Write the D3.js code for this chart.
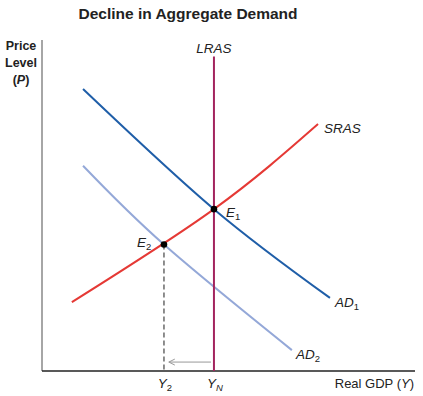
<!DOCTYPE html>
<html>
<head>
<meta charset="utf-8">
<script src="https://cdn.jsdelivr.net/npm/d3@7"></script>
<style>
  body { margin: 0; background: #fff; }
  text { font-family: "Liberation Sans", Arial, sans-serif; fill: #222; }
</style>
</head>
<body>
<svg id="chart" width="423" height="396"></svg>
<script>
// curve points in (real GDP, price level) units, 0-100
var ad1 = [[11, 85.2], [46.1, 48.9], [77.2, 22.1]];
var ad2 = [[11, 62], [32.7, 38.2], [67, 6.3]];
var sras = [[8, 20.8], [46.1, 48.9], [74, 74.6]];
var lrasX = 46.1, lrasTop = 95;
var e1 = [46.1, 48.9], e2 = [32.7, 38.2];
var arrowFrom = 45.3, arrowTo = 34, arrowY = 2.7;

var svg = d3.select('#chart'),
    x = d3.scaleLinear().domain([0, 100]).range([42, 415]),
    y = d3.scaleLinear().domain([0, 100]).range([371, 40]);

var line = d3.line()
    .x(function(d) { return x(d[0]); })
    .y(function(d) { return y(d[1]); })
    .curve(d3.curveNatural);

// title
svg.append('text').attr('x', 188).attr('y', 19)
    .attr('text-anchor', 'middle').attr('font-weight', 'bold').attr('font-size', 15.5)
    .text('Decline in Aggregate Demand');

// axes
svg.append('line').attr('x1', x(0)).attr('x2', x(0)).attr('y1', y(100)).attr('y2', y(0))
    .attr('stroke', '#888').attr('stroke-width', 1.5);
svg.append('line').attr('x1', x(0)).attr('x2', x(100)).attr('y1', y(0)).attr('y2', y(0))
    .attr('stroke', '#222').attr('stroke-width', 1.5);

// y label
var yl = svg.append('text').attr('text-anchor', 'middle').attr('font-size', 12.5).attr('font-weight', 'bold');
yl.append('tspan').attr('x', 21).attr('y', 50).text('Price');
yl.append('tspan').attr('x', 21).attr('y', 67).text('Level');
yl.append('tspan').attr('x', 21).attr('y', 84).text('(');
yl.append('tspan').attr('font-style', 'italic').text('P');
yl.append('tspan').text(')');

// x label
var xl = svg.append('text').attr('x', 414).attr('y', 388).attr('text-anchor', 'end').attr('font-size', 13);
xl.append('tspan').text('Real GDP (');
xl.append('tspan').attr('font-style', 'italic').text('Y');
xl.append('tspan').text(')');

// dashed drop line
svg.append('line').attr('x1', x(e2[0])).attr('x2', x(e2[0])).attr('y1', y(e2[1])).attr('y2', y(0))
    .attr('stroke', '#444').attr('stroke-width', 1.2).attr('stroke-dasharray', '5,3');

// arrow
var ax0 = x(arrowFrom), ax1 = x(arrowTo), ay = y(arrowY);
svg.append('line').attr('x1', ax0).attr('x2', ax1).attr('y1', ay).attr('y2', ay)
    .attr('stroke', '#999').attr('stroke-width', 1);
svg.append('path').attr('d', 'M' + (ax1 + 6) + ',' + (ay - 3) + 'L' + ax1 + ',' + ay + 'L' + (ax1 + 6) + ',' + (ay + 3))
    .attr('fill', 'none').attr('stroke', '#999').attr('stroke-width', 1);

// curves
svg.append('path').datum(ad2).attr('d', line).attr('fill', 'none').attr('stroke', '#94a8d8').attr('stroke-width', 2);
svg.append('path').datum(sras).attr('d', line).attr('fill', 'none').attr('stroke', '#e53935').attr('stroke-width', 2);
svg.append('path').datum(ad1).attr('d', line).attr('fill', 'none').attr('stroke', '#1f5ea8').attr('stroke-width', 2);
svg.append('line').attr('x1', x(lrasX)).attr('x2', x(lrasX)).attr('y1', y(lrasTop)).attr('y2', y(0))
    .attr('stroke', '#a3245e').attr('stroke-width', 2);

// equilibrium dots
svg.selectAll('circle.eq').data([e1, e2]).enter().append('circle')
    .attr('cx', function(d) { return x(d[0]); }).attr('cy', function(d) { return y(d[1]); })
    .attr('r', 3.3).attr('fill', '#000');

// labels with subscripts
function label(px, py, main, sub, anchor, subItalic) {
    var t = svg.append('text').attr('x', px).attr('y', py).attr('font-size', 13.5)
        .attr('font-style', 'italic').attr('text-anchor', anchor || 'start');
    t.append('tspan').text(main);
    if (sub) t.append('tspan').attr('font-size', 9.5).attr('font-style', subItalic ? 'italic' : 'normal').attr('dy', 3).text(sub);
    return t;
}
label(x(lrasX), 53, 'LRAS', null, 'middle');
label(324, 133, 'SRAS');
label(335, 307, 'AD', '1');
label(296, 359, 'AD', '2');
label(226, 217, 'E', '1');
label(137, 247, 'E', '2');
label(x(e2[0]) + 1, 388, 'Y', '2', 'middle');
label(x(lrasX) + 1, 388, 'Y', 'N', 'middle', true);
</script>
</body>
</html>
